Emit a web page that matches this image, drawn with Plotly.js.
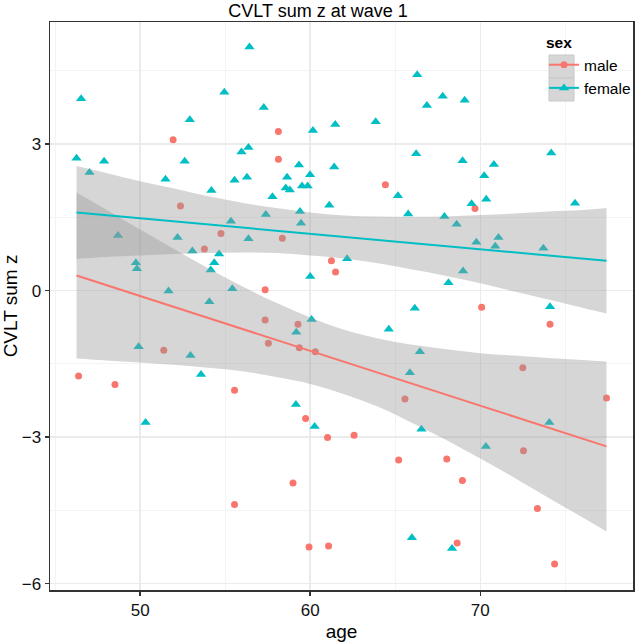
<!DOCTYPE html>
<html>
<head>
<meta charset="utf-8">
<script src="https://cdn.plot.ly/plotly-3.0.1.min.js"></script>
<style>html,body{margin:0;padding:0;background:#fff;}#chart{width:636px;height:642px;}</style>
</head>
<body>
<div id="chart"></div>
<script>
// ---- data ----
const maleAge = [51.94,58.13,58.13,64.42,69.69,52.37,54.75,53.78,58.36,61.25,61.49,57.35,70.08,74.10,57.35,59.28,57.54,59.36,60.30,51.39,46.38,48.52,55.55,65.57,72.50,77.42,59.73,61.02,62.58,65.20,68.03,72.54,58.99,68.95,73.36,55.55,59.93,61.08,68.64,74.37];
const maleZ   = [3.09,3.26,2.69,2.17,1.68,1.73,1.17,0.85,1.07,0.61,0.38,0.02,-0.34,-0.69,-0.60,-0.69,-1.08,-1.17,-1.25,-1.22,-1.75,-1.92,-2.04,-2.22,-1.58,-2.20,-2.62,-3.01,-2.96,-3.47,-3.45,-3.28,-3.94,-3.89,-4.46,-4.38,-5.25,-5.23,-5.17,-5.60];

const femaleAge = [56.43,46.53,54.95,52.92,46.26,47.88,52.62,47.02,51.49,54.19,55.96,56.37,55.55,56.28,55.34,66.29,67.79,66.86,57.27,60.16,61.47,63.85,66.23,59.34,61.41,58.64,59.99,58.56,58.80,59.52,59.85,57.78,65.16,57.39,59.40,61.12,65.76,67.89,69.08,74.17,68.96,70.80,70.23,69.49,70.35,75.57,48.70,52.20,56.37,53.07,54.64,54.36,49.75,49.81,54.15,51.67,55.42,54.07,49.91,52.96,53.58,59.46,62.17,60.00,68.13,66.15,60.08,59.18,64.62,66.45,65.86,59.16,68.61,69.77,71.07,70.88,73.71,68.99,74.10,50.32,60.26,66.54,65.98,74.06,70.33,68.34];
const femaleZ   = [4.99,3.93,4.06,3.50,2.71,2.65,2.65,2.42,2.28,2.05,2.84,2.93,2.26,2.32,1.42,4.42,3.98,3.79,3.75,3.28,3.40,3.46,2.80,2.57,2.53,2.32,2.37,2.10,2.06,2.14,2.14,1.92,1.94,1.56,1.62,1.75,1.57,1.52,3.90,2.82,2.66,2.58,2.35,1.78,1.87,1.79,1.13,1.09,1.06,0.81,0.75,0.57,0.57,0.45,0.42,-0.01,0.04,-0.23,-1.15,-1.33,-1.72,1.38,0.65,0.29,0.16,-0.36,-0.59,-0.85,-0.79,-1.25,-1.68,-2.33,1.36,0.99,1.09,0.91,0.87,0.40,-0.33,-2.70,-2.78,-2.84,-5.06,-2.70,-3.19,-5.28];

// fitted lines and confidence bands
const fitAge    = [46.26,48,50,52,54,56,58,60,62,64,66,68,70,72,74,76,77.42];
const femaleFit = [1.60,1.545,1.48,1.42,1.35,1.29,1.23,1.16,1.10,1.04,0.97,0.91,0.85,0.78,0.72,0.65,0.61];
const femaleHi  = [2.55,2.41,2.24,2.09,1.93,1.80,1.69,1.60,1.54,1.52,1.51,1.52,1.55,1.58,1.62,1.65,1.69];
const femaleLo  = [0.65,0.69,0.72,0.75,0.77,0.78,0.77,0.72,0.66,0.56,0.43,0.30,0.15,-0.02,-0.18,-0.35,-0.47];
const maleFit   = [0.31,0.115,-0.11,-0.335,-0.56,-0.78,-1.01,-1.23,-1.46,-1.68,-1.91,-2.13,-2.36,-2.58,-2.81,-3.03,-3.19];
const maleHi    = [2.01,1.66,1.25,0.85,0.46,0.09,-0.25,-0.55,-0.80,-0.98,-1.11,-1.20,-1.28,-1.33,-1.38,-1.42,-1.45];
const maleLo    = [-1.39,-1.43,-1.47,-1.52,-1.58,-1.65,-1.77,-1.91,-2.12,-2.38,-2.71,-3.06,-3.44,-3.83,-4.24,-4.64,-4.93];

const xTicks = [50,60,70];
const yTicks = [-6,-3,0,3];
const groups = ['male','female'];
const titleText = 'CVLT sum z at wave 1';
const xTitle = 'age';
const yTitle = 'CVLT sum z';
const legendTitle = 'sex';

// ---- styles ----
const RED = '#F8766D', TEAL = '#00BFC4';
const BAND = 'rgba(153,153,153,0.4)';
const FONT = 'Liberation Sans, Arial, Helvetica, sans-serif';

// separate every point by a gap so that no line segment joins them,
// while the legend still shows line + marker for the group
function isolate(arr){ const out=[]; arr.forEach(v=>{ out.push(v); out.push(null); }); return out; }

const traces = [
  {x: isolate(maleAge), y: isolate(maleZ), type:'scatter', mode:'lines+markers', connectgaps:false,
   name: groups[0], hoverinfo:'skip', line:{color:RED, width:2},
   marker:{symbol:'circle', size:7, color:RED}},
  {x: isolate(femaleAge), y: isolate(femaleZ), type:'scatter', mode:'lines+markers', connectgaps:false,
   name: groups[1], hoverinfo:'skip', line:{color:TEAL, width:2},
   marker:{symbol:'triangle-up', size:9, color:TEAL}},
  // bands
  {x: fitAge, y: femaleLo, type:'scatter', mode:'lines', line:{width:0, shape:'spline'}, showlegend:false, hoverinfo:'skip'},
  {x: fitAge, y: femaleHi, type:'scatter', mode:'lines', line:{width:0, shape:'spline'}, fill:'tonexty', fillcolor:BAND, showlegend:false, hoverinfo:'skip'},
  {x: fitAge, y: maleLo, type:'scatter', mode:'lines', line:{width:0, shape:'spline'}, showlegend:false, hoverinfo:'skip'},
  {x: fitAge, y: maleHi, type:'scatter', mode:'lines', line:{width:0, shape:'spline'}, fill:'tonexty', fillcolor:BAND, showlegend:false, hoverinfo:'skip'},
  // fit lines
  {x: fitAge, y: maleFit, type:'scatter', mode:'lines', line:{color:RED, width:2}, showlegend:false, hoverinfo:'skip'},
  {x: fitAge, y: femaleFit, type:'scatter', mode:'lines', line:{color:TEAL, width:2}, showlegend:false, hoverinfo:'skip'}
];

const W = 636, H = 642, L = 50, R = 3, T = 22, B = 52;
const pw = W - L - R, ph = H - T - B;
function px2paperX(p){ return (p - L) / pw; }
function px2paperY(p){ return (H - B - p) / ph; }

const axisCommon = {
  showline:true, mirror:true, linecolor:'#333333', linewidth:1.5,
  ticks:'outside', ticklen:4, tickwidth:1.5, tickcolor:'#333333',
  showgrid:true, gridcolor:'#ebebeb', gridwidth:1.5,
  zeroline:false,
  tickfont:{family:FONT, size:17, color:'#111111'},
  automargin:false
};

const layout = {
  width: W, height: H,
  margin:{l:L, r:R, t:T, b:B, autoexpand:false},
  paper_bgcolor:'#ffffff', plot_bgcolor:'#ffffff',
  showlegend:true,
  title:{text:titleText, font:{family:FONT, size:18, color:'#000'}, x:0.5, xanchor:'center', y:1-11/H, yanchor:'middle', yref:'container'},
  xaxis: Object.assign({}, axisCommon, {
    range:[44.70, 78.98], tickvals:xTicks,
    minor:{dtick:5, tick0:45, showgrid:true, gridcolor:'#f4f4f4', gridwidth:1, ticks:''},
    title:{text:xTitle, font:{family:FONT, size:19, color:'#000'}, standoff:6}
  }),
  yaxis: Object.assign({}, axisCommon, {
    range:[-6.13, 5.50], tickvals:yTicks,
    minor:{dtick:1.5, tick0:0, showgrid:true, gridcolor:'#f4f4f4', gridwidth:1, ticks:''},
    title:{text:yTitle, font:{family:FONT, size:19, color:'#000'}, standoff:8}
  }),
  legend:{
    x: px2paperX(544), y: px2paperY(28), xanchor:'left', yanchor:'top',
    bgcolor:'rgba(0,0,0,0)', borderwidth:0, traceorder:'normal',
    font:{family:FONT, size:15.5, color:'#000'},
    title:{text:'<b>'+legendTitle+'</b>', font:{family:FONT, size:15.5, color:'#000'}},
    itemwidth:30, tracegroupgap:0
  },
  shapes:[
    {type:'rect', xref:'paper', yref:'paper', layer:'above',
     x0:px2paperX(549), x1:px2paperX(574), y0:px2paperY(55), y1:px2paperY(78),
     fillcolor:'#d6d6d6', line:{color:'#c8c8c8', width:1}},
    {type:'rect', xref:'paper', yref:'paper', layer:'above',
     x0:px2paperX(549), x1:px2paperX(574), y0:px2paperY(78), y1:px2paperY(101),
     fillcolor:'#d6d6d6', line:{color:'#c8c8c8', width:1}}
  ]
};

Plotly.newPlot('chart', traces, layout, {displayModeBar:false, staticPlot:true});
</script>
</body>
</html>
